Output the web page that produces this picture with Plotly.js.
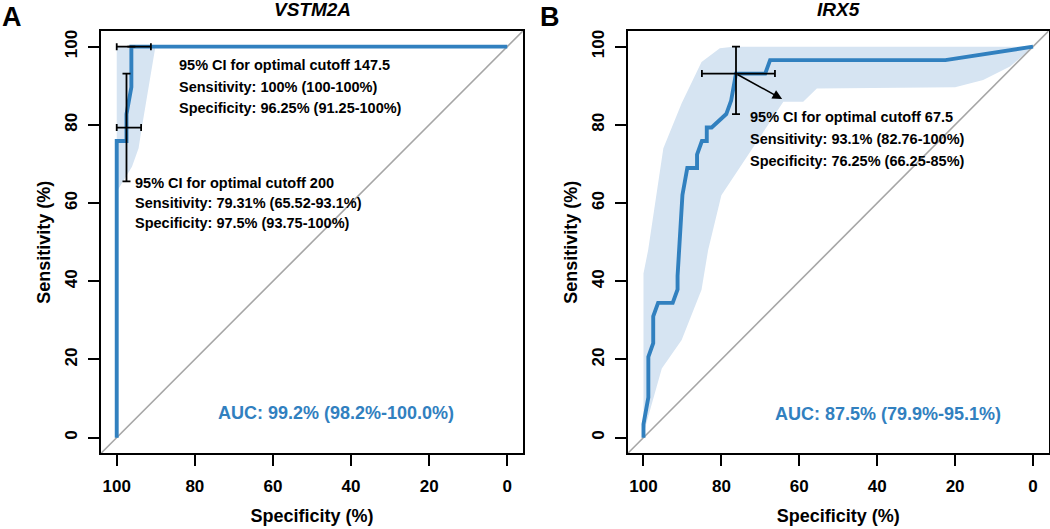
<!DOCTYPE html>
<html>
<head>
<meta charset="utf-8">
<script src="https://cdn.plot.ly/plotly-3.0.1.min.js"></script>
<style>html,body{margin:0;padding:0;background:#fff;}#chart{width:1050px;height:529px;}</style>
</head>
<body>
<div id="chart"></div>
<script>
// ---------- data ----------
// Panel A: VSTM2A ROC curve (specificity %, sensitivity %)
const specA = [100, 100, 97.5, 97.5, 96.25, 96.25, 0];
const sensA = [0, 75.86, 75.86, 82.76, 89.66, 100, 100];
// Panel A: sensitivity CI band
const ciUpSpecA = [100, 0];
const ciUpA = [100, 100];
const ciLoSpecA = [100, 99.1, 96.1, 94.4, 93.6, 90.1, 0];
const ciLoA = [62.9, 64.6, 69.3, 74.0, 79.1, 100, 100];
// Panel A: optimal cutoffs with CIs
const cutA = ["147.5", "200"];
const cutSpecA = [96.25, 97.5];
const cutSpecLoA = [91.25, 93.75];
const cutSpecHiA = [100, 100];
const cutSensA = [100, 79.31];
const cutSensLoA = [100, 65.52];
const cutSensHiA = [100, 93.1];
const aucA = "AUC: 99.2% (98.2%-100.0%)";

// Panel B: IRX5 ROC curve
const specB = [100, 100, 98.75, 98.75, 97.5, 97.5, 96.25, 92.5, 91.25, 91.25, 90, 88.75, 86.25, 86.25, 85, 83.75, 83.75, 82.5, 78.75, 77.5, 76.25, 68.75, 67.5, 22.5, 0];
const sensB = [0, 3.45, 10.34, 20.69, 24.14, 31.03, 34.48, 34.48, 37.93, 41.38, 62.07, 68.97, 68.97, 72.41, 75.86, 75.86, 79.31, 79.31, 82.76, 86.21, 93.1, 93.1, 96.55, 96.55, 100];
// Panel B: sensitivity CI band
const ciUpSpecB = [100, 100, 98.8, 94.9, 90.2, 85.1, 80.4, 77, 0];
const ciUpB = [1, 42, 48, 74, 85.5, 96.1, 99.6, 100, 100];
const ciLoSpecB = [100, 98.3, 95.3, 90.2, 85.1, 83.4, 80, 76, 72.7, 64.1, 59, 55.5, 20, 12.8, 5.9, 0];
const ciLoB = [1, 7.1, 17.7, 25, 37.8, 48, 62, 68, 73, 85.9, 85.9, 89.3, 89.6, 91.5, 94.9, 100];
// Panel B: optimal cutoff with CI
const cutB = ["67.5"];
const cutSpecB = [76.25];
const cutSpecLoB = [66.25];
const cutSpecHiB = [85];
const cutSensB = [93.1];
const cutSensLoB = [82.76];
const cutSensHiB = [100];
const aucB = "AUC: 87.5% (79.9%-95.1%)";

// Diagonal reference (chance line) end points
const chanceSpec = [104, -4];
const chanceSens = [-4, 104];

// Axis ticks
const tickVals = [0, 20, 40, 60, 80, 100];
const tickText = ["0", "20", "40", "60", "80", "100"];

// ---------- styling ----------
const BLUE = "rgb(49,128,191)";
const SHADE = "rgb(214,228,242)";
const GREY = "rgb(166,166,166)";
const FONT = "Liberation Sans, Arial, sans-serif";
const W = 1050, H = 529;

function band(upX, upY, loX, loY) {
  return { x: upX.concat(loX.slice().reverse()), y: upY.concat(loY.slice().reverse()) };
}

function panelTraces(xa, ya, spec, sens, uX, uY, lX, lY, cSpec, cSLo, cSHi, cSens, cSeLo, cSeHi) {
  const b = band(uX, uY, lX, lY);
  return [
    { x: b.x, y: b.y, xaxis: xa, yaxis: ya, type: "scatter", mode: "lines", fill: "toself",
      fillcolor: SHADE, line: { width: 0, color: SHADE }, hoverinfo: "skip", showlegend: false },
    { x: chanceSpec, y: chanceSens, xaxis: xa, yaxis: ya, type: "scatter", mode: "lines",
      line: { color: GREY, width: 1.6 }, showlegend: false, hoverinfo: "skip" },
    { x: spec, y: sens, xaxis: xa, yaxis: ya, type: "scatter", mode: "lines",
      line: { color: BLUE, width: 3.9 }, showlegend: false },
    { x: cSpec, y: cSens, xaxis: xa, yaxis: ya, type: "scatter", mode: "markers",
      marker: { size: 1, color: "rgba(0,0,0,0)" }, showlegend: false,
      error_x: { type: "data", symmetric: false,
        array: cSpec.map((v, i) => cSHi[i] - v), arrayminus: cSpec.map((v, i) => v - cSLo[i]),
        color: "#000", thickness: 1.8, width: 3.5 },
      error_y: { type: "data", symmetric: false,
        array: cSens.map((v, i) => cSeHi[i] - v), arrayminus: cSens.map((v, i) => v - cSeLo[i]),
        color: "#000", thickness: 1.8, width: 4 } }
  ];
}

const data = []
  .concat(panelTraces("x", "y", specA, sensA, ciUpSpecA, ciUpA, ciLoSpecA, ciLoA,
    cutSpecA, cutSpecLoA, cutSpecHiA, cutSensA, cutSensLoA, cutSensHiA))
  .concat(panelTraces("x2", "y2", specB, sensB, ciUpSpecB, ciUpB, ciLoSpecB, ciLoB,
    cutSpecB, cutSpecLoB, cutSpecHiB, cutSensB, cutSensLoB, cutSensHiB));

const tickFont = { family: FONT, size: 17, color: "#000", weight: "bold" };
const titleFont = { family: FONT, size: 18, color: "#000", weight: "bold" };

function xAxis(domain, anchor) {
  return { domain: domain, anchor: anchor, range: [104, -4], tickvals: tickVals, ticktext: tickText,
    ticks: "outside", ticklen: 11, tickwidth: 2, tickcolor: "#000", showgrid: false, zeroline: false,
    showline: true, linecolor: "#000", linewidth: 2, mirror: true, tickfont: tickFont,
    ticklabelstandoff: 5, automargin: false,
    title: { text: "Specificity (%)", font: titleFont, standoff: 15 } };
}
function yAxis(domain, anchor) {
  return { domain: domain, anchor: anchor, range: [-4, 104], tickvals: tickVals, ticktext: tickText,
    ticks: "outside", ticklen: 11, tickwidth: 2, tickcolor: "#000", showgrid: false, zeroline: false,
    showline: true, linecolor: "#000", linewidth: 2, mirror: true, tickfont: tickFont, tickangle: -90,
    ticklabelstandoff: 4, automargin: false,
    title: { text: "Sensitivity (%)", font: titleFont, standoff: 7 } };
}

const yDom = [1 - 453.3 / H, 1 - 31 / H];
const xDomA = [101.1 / W, 522.9 / W];
const xDomB = [627.9 / W, 1048.6 / W];

const txtFont = { family: FONT, size: 14.5, color: "#000", weight: "bold" };
function label(xr, yr, x, y, text) {
  return { xref: xr, yref: yr, x: x, y: y, text: text, showarrow: false,
    xanchor: "left", yanchor: "middle", font: txtFont };
}

const annotations = [
  // panel letters
  { xref: "paper", yref: "paper", x: 0 / W, y: 1 - 17 / H, text: "A", showarrow: false,
    xanchor: "left", yanchor: "middle", font: { family: FONT, size: 27, color: "#000", weight: "bold" } },
  { xref: "paper", yref: "paper", x: 538 / W, y: 1 - 17 / H, text: "B", showarrow: false,
    xanchor: "left", yanchor: "middle", font: { family: FONT, size: 27, color: "#000", weight: "bold" } },
  // panel titles
  { xref: "paper", yref: "paper", x: (xDomA[0] + xDomA[1]) / 2, y: 1 - 10 / H, text: "VSTM2A",
    showarrow: false, xanchor: "center", yanchor: "middle",
    font: { family: FONT, size: 19, color: "#000", weight: "bold", style: "italic" } },
  { xref: "paper", yref: "paper", x: (xDomB[0] + xDomB[1]) / 2, y: 1 - 10 / H, text: "IRX5",
    showarrow: false, xanchor: "center", yanchor: "middle",
    font: { family: FONT, size: 19, color: "#000", weight: "bold", style: "italic" } },
  // panel A cutoff texts
  label("x", "y", 84.5, 95.3, "95% CI for optimal cutoff " + cutA[0]),
  label("x", "y", 84.5, 89.8, "Sensitivity: 100% (100-100%)"),
  label("x", "y", 84.5, 84.4, "Specificity: 96.25% (91.25-100%)"),
  label("x", "y", 95.75, 65.1, "95% CI for optimal cutoff " + cutA[1]),
  label("x", "y", 95.75, 59.9, "Sensitivity: 79.31% (65.52-93.1%)"),
  label("x", "y", 95.75, 54.8, "Specificity: 97.5% (93.75-100%)"),
  // panel B cutoff texts
  label("x2", "y2", 73.1, 82.0, "95% CI for optimal cutoff " + cutB[0]),
  label("x2", "y2", 73.1, 76.4, "Sensitivity: 93.1% (82.76-100%)"),
  label("x2", "y2", 73.1, 70.7, "Specificity: 76.25% (66.25-85%)"),
  // arrow panel B
  { xref: "x2", yref: "y2", axref: "x2", ayref: "y2", x: 64.4, y: 86.6, ax: cutSpecB[0], ay: cutSensB[0],
    text: "", showarrow: true, arrowhead: 2, arrowsize: 1.2, arrowwidth: 1.6, arrowcolor: "#000", standoff: 0 },
  // AUC
  { xref: "x", yref: "y", x: 43.9, y: 6.3, text: aucA, showarrow: false, xanchor: "center", yanchor: "middle",
    font: { family: FONT, size: 18, color: BLUE, weight: "bold" } },
  { xref: "x2", yref: "y2", x: 37.3, y: 6.1, text: aucB, showarrow: false, xanchor: "center", yanchor: "middle",
    font: { family: FONT, size: 18, color: BLUE, weight: "bold" } }
];

const layout = {
  width: W, height: H,
  margin: { l: 0, r: 0, t: 0, b: 0, pad: 0 },
  paper_bgcolor: "#fff", plot_bgcolor: "#fff",
  showlegend: false,
  font: { family: FONT, color: "#000" },
  xaxis: xAxis(xDomA, "y"),
  yaxis: yAxis(yDom, "x"),
  xaxis2: xAxis(xDomB, "y2"),
  yaxis2: yAxis(yDom, "x2"),
  annotations: annotations
};

Plotly.newPlot("chart", data, layout, { displayModeBar: false, staticPlot: true });
</script>
</body>
</html>
